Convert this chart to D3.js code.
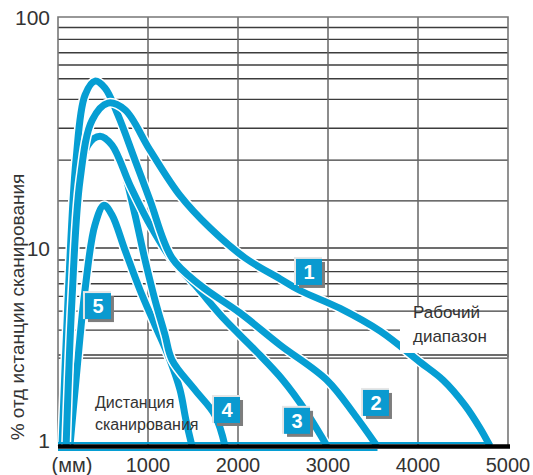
<!DOCTYPE html>
<html>
<head>
<meta charset="utf-8">
<script src="https://cdn.jsdelivr.net/npm/d3@7"></script>
<style>
  body { margin: 0; background: #fff; }
  svg { display: block; }
</style>
</head>
<body>
<svg id="chart" width="533" height="475"></svg>
<script>
// distance in mm, signal in % (log axis)
const curve1X = [90, 155, 245, 380, 555, 745, 1020, 1355, 1690, 2080, 2465, 2690, 3135, 3580, 4020, 4280, 4520, 4690, 4800];
const curve1Y = [1, 5.46, 19.7, 35.8, 42.4, 39.6, 26.6, 16.9, 12.2, 8.9, 7.0, 6.1, 4.95, 3.8, 2.66, 2.15, 1.61, 1.23, 1];
const curve2X = [44, 111, 200, 300, 411, 522, 667, 856, 1022, 1267, 1578, 2022, 2467, 2989, 3300, 3544];
const curve2Y = [1, 5.46, 24.0, 45.9, 52.8, 49.3, 37.6, 24.0, 16.1, 8.9, 6.5, 4.7, 3.24, 2.15, 1.43, 1];
const curve3X = [67, 133, 222, 333, 467, 600, 800, 1022, 1267, 1522, 1856, 2189, 2500, 2744, 2989];
const curve3Y = [1, 4.33, 16.1, 27.9, 30.5, 27.9, 18.7, 12.6, 8.7, 6.5, 4.33, 3.05, 2.15, 1.52, 1];
const curve4X = [67, 133, 222, 333, 467, 600, 744, 856, 967, 1078, 1189, 1267, 1522, 1744, 1856];
const curve4Y = [1, 4.33, 16.1, 27.9, 30.5, 27.9, 20.7, 13.9, 8.7, 5.46, 3.64, 2.72, 1.92, 1.43, 1];
const curve5X = [133, 200, 300, 411, 511, 600, 744, 911, 1078, 1244, 1356, 1422, 1489];
const curve5Y = [1, 2.15, 6.14, 12.6, 15.3, 13.9, 9.77, 6.14, 4.08, 2.72, 1.92, 1.35, 1];

const curveNames = ["1", "2", "3", "4", "5"];
// anchor of each number box (mm, %)
const tagX = [2789, 3533, 2656, 1878, 444];
const tagY = [7.57, 1.65, 1.34, 1.52, 5.09];

const xTicks = [1000, 2000, 3000, 4000, 5000];
const yTicks = [1, 10, 100];
const yGridTop = [90, 80, 70, 62, 54, 44, 33, 24, 16];
const yGridBottom = [8.7, 7.6, 6.6, 5.7, 4.8, 3.85, 2.88, 2.78];

const blue = "#069ed3";
const gridColor = "#3c3c3c";

const svg = d3.select("#chart");

const x = d3.scaleLinear().domain([0, 5000]).range([58, 508]);
const y = d3.scaleLog().domain([1, 10, 100]).range([446, 248, 17]);

// grid
const grid = svg.append("g");
grid.selectAll(".hline")
  .data(yGridTop.concat(yGridBottom, [10]))
  .enter()
  .append("line")
  .attr("x1", x(0))
  .attr("x2", x(5000))
  .attr("y1", (d) => y(d))
  .attr("y2", (d) => y(d))
  .attr("stroke", gridColor)
  .attr("stroke-width", 1.4);

grid.selectAll(".vline")
  .data(xTicks.slice(0, 4))
  .enter()
  .append("line")
  .attr("x1", (d) => x(d))
  .attr("x2", (d) => x(d))
  .attr("y1", y(100))
  .attr("y2", y(1))
  .attr("stroke", "#666")
  .attr("stroke-width", 1.5);

// frame
svg.append("path")
  .attr("d", `M${x(0)},${y(1)}V${y(100)}H${x(5000)}V${y(1)}`)
  .attr("fill", "none")
  .attr("stroke", "#777")
  .attr("stroke-width", 1.6);

// curves
const curves = [
  [curve1X, curve1Y], [curve2X, curve2Y], [curve3X, curve3Y],
  [curve4X, curve4Y], [curve5X, curve5Y]
];
const line = d3.line()
  .x((d) => x(d[0]))
  .y((d) => y(d[1]))
  .curve(d3.curveCatmullRom.alpha(0.5));

const curveG = svg.append("g");
curves.slice().reverse().forEach(([xs, ys]) => {
  const pts = xs.map((v, i) => [v, ys[i]]);
  curveG.append("path")
    .attr("d", line(pts))
    .attr("fill", "none")
    .attr("stroke", "#fff")
    .attr("stroke-width", 10);
  curveG.append("path")
    .attr("d", line(pts))
    .attr("fill", "none")
    .attr("stroke", blue)
    .attr("stroke-width", 7);
});

// baseline: blue tails + thick black axis
svg.append("line")
  .attr("x1", x(0)).attr("x2", x(4800))
  .attr("y1", y(1) - 3).attr("y2", y(1) - 3)
  .attr("stroke", blue).attr("stroke-width", 2);
svg.append("line")
  .attr("x1", x(0)).attr("x2", x(3550))
  .attr("y1", y(1) + 4).attr("y2", y(1) + 4)
  .attr("stroke", blue).attr("stroke-width", 2);
svg.append("line")
  .attr("x1", x(0)).attr("x2", x(5000) + 2)
  .attr("y1", y(1) + 0.5).attr("y2", y(1) + 0.5)
  .attr("stroke", "#000").attr("stroke-width", 4.5);

// "Рабочий диапазон" box
svg.append("rect")
  .attr("x", x(3800))
  .attr("y", y(5.0))
  .attr("width", x(5000) - x(3800) - 1)
  .attr("height", y(2.95) - y(5.0))
  .attr("fill", "#fff");
svg.append("line")
  .attr("x1", x(3800)).attr("x2", x(5000))
  .attr("y1", y(4.8)).attr("y2", y(4.8))
  .attr("stroke", gridColor).attr("stroke-width", 1.2);
svg.append("line")
  .attr("x1", x(5000)).attr("x2", x(5000))
  .attr("y1", y(5.5)).attr("y2", y(2.8))
  .attr("stroke", "#777").attr("stroke-width", 1.6);

const note = (lines, px, py0, dy, size) => {
  lines.forEach((t, i) => {
    svg.append("text")
      .attr("x", px)
      .attr("y", py0 + i * dy)
      .text(t)
      .style("font-family", "'Liberation Sans Narrow', 'Liberation Sans', sans-serif")
      .style("font-size", size + "px")
      .style("fill", "#333");
  });
};
note(["Рабочий", "диапазон"], 413, 318, 24, 17);
note(["Дистанция", "сканирования"], 95, 408, 22, 16);

// number boxes
const tags = svg.append("g");
curveNames.forEach((name, i) => {
  const cx = x(tagX[i]);
  const cy = y(tagY[i]);
  const s = 26;
  tags.append("rect")
    .attr("x", cx - s / 2 - 2).attr("y", cy - s / 2 - 2)
    .attr("width", s + 2).attr("height", s + 2)
    .attr("fill", "#e6e6e6");
  tags.append("rect")
    .attr("x", cx - s / 2 + 3).attr("y", cy - s / 2 + 3)
    .attr("width", s).attr("height", s)
    .attr("fill", "#7d7d7d");
  tags.append("rect")
    .attr("x", cx - s / 2).attr("y", cy - s / 2)
    .attr("width", s).attr("height", s)
    .attr("fill", "#0a9ad0");
  tags.append("text")
    .attr("x", cx)
    .attr("y", cy + 7)
    .attr("text-anchor", "middle")
    .text(name)
    .style("font-family", "'Liberation Sans', Arial, sans-serif")
    .style("font-weight", "bold")
    .style("font-size", "20px")
    .style("fill", "#fff");
});

// axis labels
const labelFont = "'Liberation Sans', Arial, sans-serif";
svg.selectAll(".ytick")
  .data(yTicks)
  .enter()
  .append("text")
  .attr("x", 50)
  .attr("y", (d) => Math.min(y(d) + 8, 448))
  .attr("text-anchor", "end")
  .text((d) => d)
  .style("font-family", labelFont)
  .style("font-size", "21px")
  .style("fill", "#333");

svg.selectAll(".xtick")
  .data(xTicks)
  .enter()
  .append("text")
  .attr("x", (d) => x(d))
  .attr("y", 472)
  .attr("text-anchor", "middle")
  .text((d) => d)
  .style("font-family", labelFont)
  .style("font-size", "20px")
  .style("fill", "#333");

svg.append("text")
  .attr("x", 72)
  .attr("y", 472)
  .attr("text-anchor", "middle")
  .text("(мм)")
  .style("font-family", labelFont)
  .style("font-size", "20px")
  .style("fill", "#333");

svg.append("text")
  .attr("transform", "translate(24, 307) rotate(-90)")
  .attr("text-anchor", "middle")
  .text("% отд истанции сканирования")
  .style("font-family", labelFont)
  .style("font-size", "19px")
  .style("fill", "#333");
</script>
</body>
</html>
